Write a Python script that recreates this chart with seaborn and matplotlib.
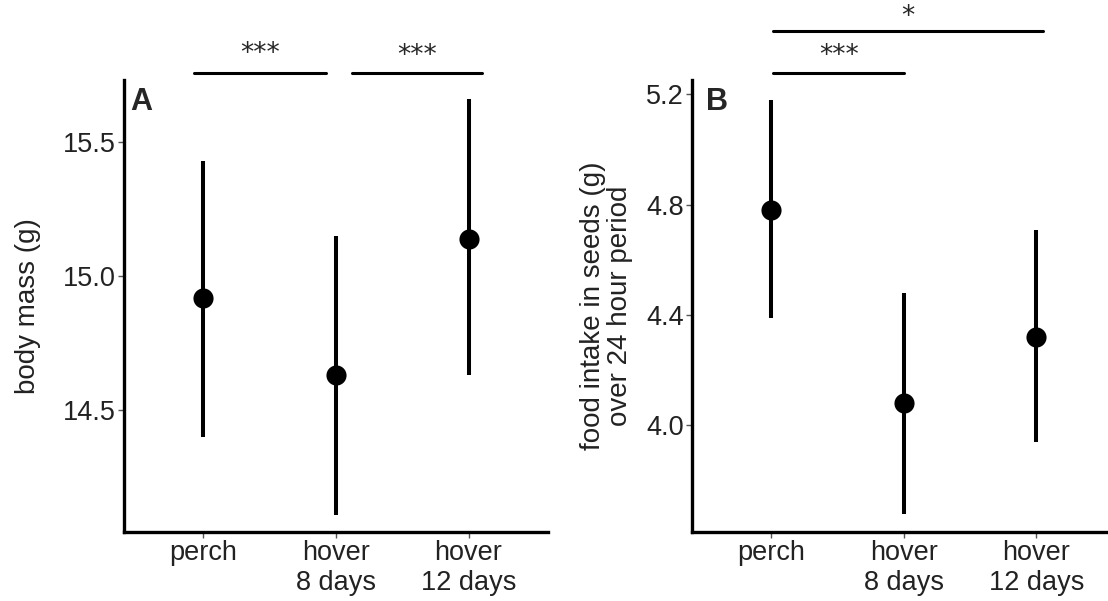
import pandas as pd
import matplotlib
matplotlib.use("Agg")
import matplotlib.pyplot as plt
import seaborn as sns

groups = ["perch", "hover\n8 days", "hover\n12 days"]

# panel A: body mass
mass_mean = [14.92, 14.63, 15.14]
mass_low = [14.40, 14.11, 14.63]
mass_high = [15.43, 15.15, 15.66]

# panel B: food intake
food_mean = [4.78, 4.08, 4.32]
food_low = [4.39, 3.68, 3.94]
food_high = [5.18, 4.48, 4.71]

sns.set_style("white")
plt.rcParams["font.family"] = ["Liberation Sans", "DejaVu Sans"]

fig = plt.figure(figsize=(11.08, 6.01), dpi=100)
axA = fig.add_axes([0.1119, 0.1148, 0.3827, 0.752])
axB = fig.add_axes([0.6245, 0.1148, 0.3827, 0.752])


def panel(ax, mean, low, high, ylim, yticks, ylabel, letter, pad, lx):
    df = pd.DataFrame({"group": groups, "value": mean})
    ax.vlines(range(len(groups)), low, high, color="black", lw=2.9, zorder=2)
    sns.scatterplot(data=df, x="group", y="value", ax=ax, color="black",
                    s=210, edgecolor="black", linewidth=0, zorder=3)
    ax.set_xlim(-0.6, 2.6)
    ax.set_ylim(*ylim)
    ax.set_yticks(yticks)
    ax.set_yticklabels([f"{t:.1f}" for t in yticks])
    ax.set_xlabel("")
    ax.set_ylabel(ylabel, fontsize=20, color="#222222", labelpad=pad,
                  linespacing=1.05)
    for s in ["top", "right"]:
        ax.spines[s].set_visible(False)
    for s in ["left", "bottom"]:
        ax.spines[s].set_linewidth(2.4)
        ax.spines[s].set_color("black")
    ax.tick_params(axis="both", labelsize=19.5, labelcolor="#222222",
                   length=4, width=1, color="#555555", pad=2, left=True, bottom=True)
    ax.text(lx, 0.985, letter, transform=ax.transAxes, fontsize=22,
            fontweight="bold", va="top", ha="left")


panel(axA, mass_mean, mass_low, mass_high, (14.045, 15.732),
      [14.5, 15.0, 15.5], "body mass (g)", "A", 16, 0.015)
panel(axB, food_mean, food_low, food_high, (3.613, 5.252),
      [4.0, 4.4, 4.8, 5.2], "food intake in seeds (g)\nover 24 hour period", "B", 9, 0.032)

# significance bars
def sig(ax, x0, x1, y, ty, label):
    ax.plot([x0, x1], [y, y], color="black", lw=2.2, clip_on=False)
    ax.text((x0 + x1) / 2, ty, label, ha="center", va="center",
            fontsize=19, family="DejaVu Sans", clip_on=False)

sig(axA, -0.075, 0.925, 15.76, 15.83, "***")
sig(axA, 1.12, 2.10, 15.76, 15.82, "***")
sig(axB, 0.015, 1.0, 5.278, 5.34, "***")
sig(axB, 0.015, 2.05, 5.431, 5.48, "*")

fig.savefig("out.png", dpi=100)
